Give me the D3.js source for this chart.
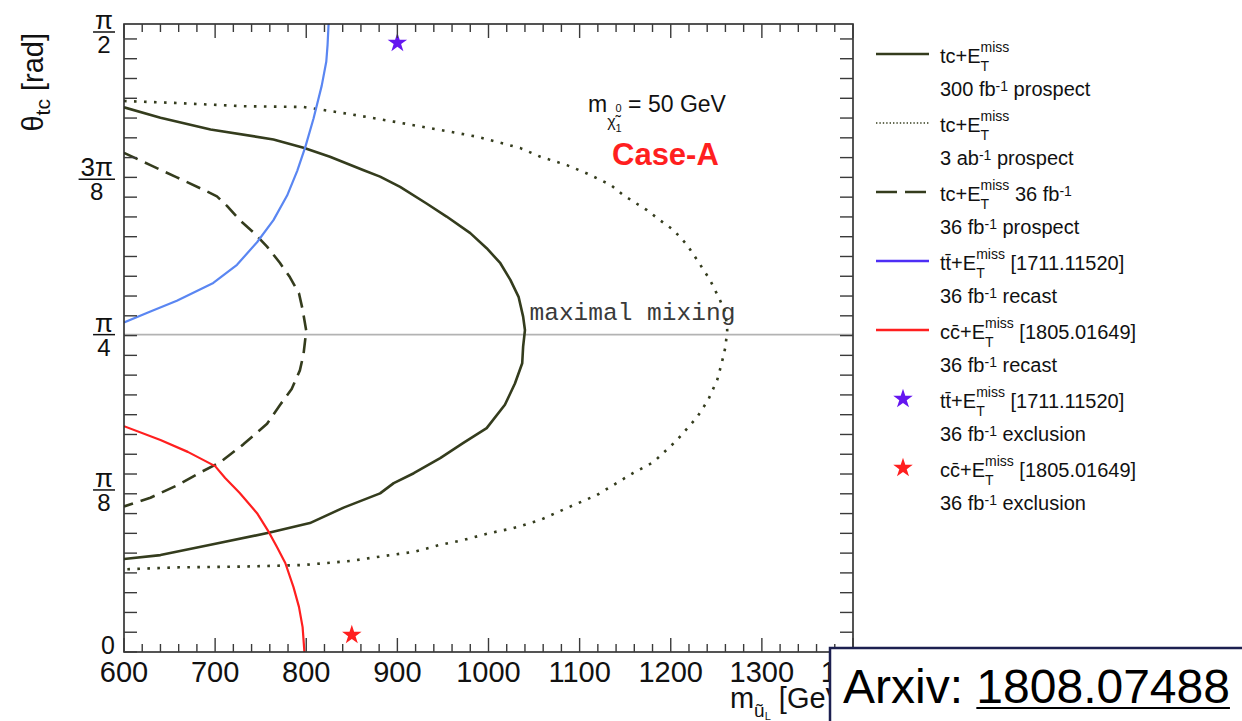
<!DOCTYPE html>
<html>
<head>
<meta charset="utf-8">
<script src="https://cdn.jsdelivr.net/npm/d3@7"></script>
<style>
  html, body { margin: 0; padding: 0; background: #fff; }
  svg { display: block; }
  text { font-family: "Liberation Sans", Arial, Helvetica, sans-serif; white-space: pre; }
  text.mono { font-family: "Liberation Mono", "DejaVu Sans Mono", monospace; }
</style>
</head>
<body>
<svg id="chart" width="1242" height="721"></svg>
<script>
// ---- axis ranges and ticks ----
const massRange = [600, 1400];
const thetaRange = [-0.017, Math.PI / 2];
const massMajorTicks = d3.range(600, 1401, 100);
const massMinorTicks = d3.range(600, 1401, 20);
const massTickLabels = ["600", "700", "800", "900", "1000", "1100", "1200", "1300", "1400"];
const thetaTicks = d3.range(thetaRange[0], thetaRange[1], 0.05);
const thetaLabelValues = [0, Math.PI / 8, Math.PI / 4, 3 * Math.PI / 8, Math.PI / 2];
const thetaLabelNum = ["0", "π", "π", "3π", "π"];
const thetaLabelDen = [null, "8", "4", "8", "2"];
const maximalMixing = Math.PI / 4;

// ---- contours: [stop mass (GeV), mixing angle (rad)] ----
const tc300 = [
  [600, 1.360], [640, 1.334], [695, 1.304], [764, 1.279], [797, 1.258], [826, 1.235],
  [863, 1.201], [881, 1.185], [903, 1.159], [932, 1.117], [954, 1.084], [980, 1.042],
  [998, 1.004], [1013, 0.966], [1024, 0.924], [1033, 0.881], [1038, 0.831], [1040, 0.797],
  [1038, 0.755], [1037, 0.713], [1029, 0.662], [1018, 0.608], [998, 0.549], [972, 0.511],
  [947, 0.473], [918, 0.435], [896, 0.410], [881, 0.384], [841, 0.348], [804, 0.309],
  [760, 0.285], [695, 0.254], [640, 0.228], [600, 0.218]
];
const tc3000 = [
  [600, 1.376], [658, 1.371], [731, 1.363], [797, 1.361], [848, 1.343], [896, 1.324],
  [947, 1.303], [987, 1.286], [1009, 1.273], [1035, 1.257], [1057, 1.235], [1086, 1.214],
  [1108, 1.193], [1134, 1.164], [1148, 1.138], [1174, 1.100], [1188, 1.075], [1203, 1.050],
  [1218, 1.012], [1229, 0.974], [1243, 0.924], [1254, 0.873], [1260, 0.840], [1262, 0.797],
  [1260, 0.754], [1256, 0.714], [1251, 0.671], [1241, 0.620], [1229, 0.577], [1207, 0.519],
  [1181, 0.463], [1159, 0.436], [1137, 0.405], [1119, 0.380], [1086, 0.347], [1057, 0.317],
  [1027, 0.296], [1002, 0.284], [972, 0.266], [947, 0.254], [918, 0.236], [892, 0.228],
  [848, 0.213], [797, 0.203], [731, 0.199], [658, 0.197], [600, 0.192]
];
const tc36 = [
  [600, 1.245], [629, 1.214], [658, 1.183], [687, 1.152], [702, 1.135], [713, 1.111],
  [727, 1.075], [742, 1.044], [757, 1.008], [771, 0.967], [782, 0.931], [792, 0.890],
  [796, 0.849], [800, 0.795], [797, 0.736], [793, 0.695], [784, 0.648], [771, 0.607],
  [757, 0.560], [731, 0.508], [705, 0.462], [683, 0.436], [658, 0.404], [629, 0.373],
  [600, 0.351]
];
const ttRecast = [
  [600, 0.816], [629, 0.844], [658, 0.871], [698, 0.916], [724, 0.962], [746, 1.019],
  [764, 1.075], [779, 1.137], [790, 1.199], [799, 1.260], [808, 1.332], [817, 1.415],
  [822, 1.476], [823.4, 1.518], [824.5, 1.571]
];
const ccRecast = [
  [600, 0.554], [640, 0.519], [670, 0.489], [700, 0.453], [711, 0.423], [727, 0.385],
  [746, 0.334], [759, 0.286], [768, 0.248], [777, 0.208], [786, 0.147], [792, 0.097],
  [796, 0.046], [798, -0.017]
];
const ttExclusion = [[900, 1.523]];
const ccExclusion = [[850, 0.026]];

// ---- legend text ----
const legendLine1 = [
  ["tc+E", {sup: "miss", sub: "T"}],
  ["tc+E", {sup: "miss", sub: "T"}],
  ["tc+E", {sup: "miss", sub: "T"}, " 36 fb", {sup: "-1"}],
  ["tt\u0304+E", {sup: "miss", sub: "T"}, " [1711.11520]"],
  ["cc\u0304+E", {sup: "miss", sub: "T"}, " [1805.01649]"],
  ["tt\u0304+E", {sup: "miss", sub: "T"}, " [1711.11520]"],
  ["cc\u0304+E", {sup: "miss", sub: "T"}, " [1805.01649]"]
];
const legendLine2 = [
  ["300 fb", {sup: "-1"}, " prospect"],
  ["3 ab", {sup: "-1"}, " prospect"],
  ["36 fb", {sup: "-1"}, " prospect"],
  ["36 fb", {sup: "-1"}, " recast"],
  ["36 fb", {sup: "-1"}, " recast"],
  ["36 fb", {sup: "-1"}, " exclusion"],
  ["36 fb", {sup: "-1"}, " exclusion"]
];

// ---- styles ----
const OLIVE = "#343c1d";
const BLUE = "#5a86f2";
const BLUE_KEY = "#4d2ef5";
const VIOLET = "#6516f0";
const RED = "#ff1f1f";
const styles = [
  {kind: "line", color: OLIVE, width: 2.6, dash: null, keyDash: null},
  {kind: "line", color: OLIVE, width: 2.6, dash: "2.6,7.4", keyDash: "1.4,2", keyWidth: 1.4},
  {kind: "line", color: OLIVE, width: 2.6, dash: "15,8", keyDash: "21,8"},
  {kind: "line", color: BLUE, keyColor: BLUE_KEY, width: 2.2, dash: null},
  {kind: "line", color: RED, width: 2.2, dash: null},
  {kind: "star", color: VIOLET},
  {kind: "star", color: RED}
];

const svg = d3.select("#chart");
const frame = {left: 124, right: 853, top: 24, bottom: 652};
const x = d3.scaleLinear().domain(massRange).range([frame.left, frame.right]);
const y = d3.scaleLinear().domain(thetaRange).range([frame.bottom, frame.top]);

svg.append("rect").attr("width", 1242).attr("height", 721).attr("fill", "#fff");

// text with super/subscripts laid out piece by piece
function richText(parent, parts, o) {
  const outer = parent.append("g")
    .attr("transform", `translate(${o.x},${o.y})` + (o.rotate ? ` rotate(${o.rotate})` : ""))
    .attr("fill", o.fill || "#000");
  const inner = outer.append("g");
  const small = o.small || Math.round(o.size * 0.68);
  let cx = 0;
  const put = (str, dy, size) => {
    const t = inner.append("text").attr("x", cx).attr("y", dy)
      .attr("font-size", size).attr("xml:space", "preserve").text(str);
    if (o.weight) t.attr("font-weight", o.weight);
    return t.node().getComputedTextLength();
  };
  parts.forEach(p => {
    if (typeof p === "string") {
      cx += put(p, 0, o.size);
    } else if (p.t !== undefined) {
      cx += put(p.t, p.dy || 0, p.size || small);
    } else {
      const start = cx;
      let w = 0;
      if (p.sup !== undefined) {
        cx = start;
        const dy = p.supDy !== undefined ? p.supDy : (p.sub !== undefined ? -o.size * 0.55 : -5);
        w = Math.max(w, put(p.sup, dy, p.size || small));
      }
      if (p.sub !== undefined) {
        cx = start;
        w = Math.max(w, put(p.sub, p.subDy !== undefined ? p.subDy : o.size * 0.4, p.size || small));
      }
      cx = start + w;
    }
  });
  if (o.anchor === "end") inner.attr("transform", `translate(${-cx},0)`);
  if (o.anchor === "middle") inner.attr("transform", `translate(${-cx / 2},0)`);
  return cx;
}

// ---- reference line at maximal mixing ----
svg.append("line")
  .attr("x1", frame.left).attr("x2", frame.right)
  .attr("y1", y(maximalMixing)).attr("y2", y(maximalMixing))
  .attr("stroke", "#b3b3b3").attr("stroke-width", 1.6);

svg.append("text").attr("class", "mono")
  .attr("x", x(1045)).attr("y", y(maximalMixing) - 15)
  .attr("font-size", 24.5).attr("fill", "#3a3a3a")
  .text("maximal mixing");

// ---- contours ----
svg.append("clipPath").attr("id", "plotClip").append("rect")
  .attr("x", frame.left).attr("y", frame.top)
  .attr("width", frame.right - frame.left).attr("height", frame.bottom - frame.top);

const line = d3.line().x(d => x(d[0])).y(d => y(d[1]));
const plotArea = svg.append("g").attr("clip-path", "url(#plotClip)");
[tc300, tc3000, tc36, ttRecast, ccRecast].forEach((series, i) => {
  const s = styles[i];
  plotArea.append("path").datum(series)
    .attr("d", line)
    .attr("fill", "none")
    .attr("stroke", s.color)
    .attr("stroke-width", s.width)
    .attr("stroke-dasharray", s.dash)
    .attr("stroke-linejoin", "round");
});

const star = d3.symbol(d3.symbolStar).size(118);
[[ttExclusion, VIOLET], [ccExclusion, RED]].forEach(([pts, color]) => {
  plotArea.selectAll(null).data(pts).enter().append("path")
    .attr("d", star)
    .attr("transform", d => `translate(${x(d[0])},${y(d[1])})`)
    .attr("fill", color);
});

// ---- frame and ticks ----
const axisColor = "#2a2a2a";
svg.append("rect")
  .attr("x", frame.left).attr("y", frame.top)
  .attr("width", frame.right - frame.left).attr("height", frame.bottom - frame.top)
  .attr("fill", "none").attr("stroke", axisColor).attr("stroke-width", 1.6);

const ticks = svg.append("g").attr("stroke", "#3a3a3a").attr("stroke-width", 1.4);
massMinorTicks.forEach(v => {
  const len = massMajorTicks.includes(v) ? 14 : 8;
  ticks.append("line").attr("x1", x(v)).attr("x2", x(v))
    .attr("y1", frame.bottom).attr("y2", frame.bottom - len);
  ticks.append("line").attr("x1", x(v)).attr("x2", x(v))
    .attr("y1", frame.top).attr("y2", frame.top + len);
});
thetaTicks.forEach(t => {
  ticks.append("line").attr("x1", frame.left).attr("x2", frame.left + 13)
    .attr("y1", y(t)).attr("y2", y(t));
  ticks.append("line").attr("x1", frame.right).attr("x2", frame.right - 13)
    .attr("y1", y(t)).attr("y2", y(t));
});

// x tick labels
svg.append("g").selectAll("text").data(massMajorTicks).enter().append("text")
  .attr("x", d => x(d)).attr("y", 682)
  .attr("text-anchor", "middle").attr("font-size", 29).attr("fill", "#111")
  .text((d, i) => massTickLabels[i]);

// y tick labels as fractions of pi
const labelRight = 115;
thetaLabelValues.forEach((v, i) => {
  const cy = Math.max(y(v), frame.top + 8);
  const g = svg.append("g").attr("fill", "#111");
  if (!thetaLabelDen[i]) {
    g.append("text").attr("x", labelRight).attr("y", cy + 9)
      .attr("text-anchor", "end").attr("font-size", 25).text(thetaLabelNum[i]);
    return;
  }
  const num = g.append("text").attr("y", cy - 3).attr("text-anchor", "middle")
    .attr("font-size", 26).text(thetaLabelNum[i]);
  const den = g.append("text").attr("y", cy + 21).attr("text-anchor", "middle")
    .attr("font-size", 24).text(thetaLabelDen[i]);
  const bw = Math.max(num.node().getComputedTextLength(), den.node().getComputedTextLength()) + 4;
  const cx = labelRight - bw / 2;
  num.attr("x", cx);
  den.attr("x", cx);
  g.append("line").attr("x1", labelRight - bw).attr("x2", labelRight)
    .attr("y1", cy).attr("y2", cy).attr("stroke", "#111").attr("stroke-width", 1.5);
});

// axis titles
richText(svg, ["θ", {t: "tc", dy: 7, size: 21}, " [rad]"],
  {x: 43, y: 33, size: 29, rotate: -90, anchor: "end", fill: "#111"});
richText(svg, ["m", {t: "u\u0303", dy: 9, size: 19}, {t: "L", dy: 12, size: 11}, " [GeV]"],
  {x: frame.right, y: 708, size: 29, anchor: "end", fill: "#111"});

// in-plot annotations
richText(svg, ["m", {t: "χ\u0303", dy: 15, size: 16}, {sup: "0", sub: "1", supDy: 0, subDy: 20, size: 11}, " = 50 GeV"],
  {x: 588, y: 112, size: 23, fill: "#111"});
svg.append("text").attr("x", 612).attr("y", 165)
  .attr("font-size", 31).attr("font-weight", "bold").attr("fill", RED)
  .text("Case-A");

// ---- legend ----
const legendX = 940, legendTop = 63, legendStep = 69;
legendLine1.forEach((parts, i) => {
  const base = legendTop + i * legendStep;
  const s = styles[i];
  const ky = base - 9;
  if (s.kind === "line") {
    svg.append("line").attr("x1", 876).attr("x2", 929).attr("y1", ky).attr("y2", ky)
      .attr("stroke", s.keyColor || s.color)
      .attr("stroke-width", s.keyWidth || 2.4)
      .attr("stroke-dasharray", s.keyDash || null);
  } else {
    svg.append("path").attr("d", star)
      .attr("transform", `translate(903,${ky})`).attr("fill", s.color);
  }
  richText(svg, parts, {x: legendX, y: base, size: 20, small: 14, fill: "#111"});
  richText(svg, legendLine2[i], {x: legendX, y: base + 33, size: 20, small: 14, fill: "#111"});
});

// ---- reference box ----
const box = svg.append("g");
box.append("rect").attr("x", 830).attr("y", 648).attr("width", 430).attr("height", 90)
  .attr("fill", "#fff").attr("stroke", "#1c2050").attr("stroke-width", 2.5);
const arx = box.append("text").attr("x", 843).attr("y", 703).attr("font-size", 48)
  .attr("fill", "#000").text("Arxiv:");
const numX = 843 + arx.node().getComputedTextLength() + 48 * 0.278;
const num = box.append("text").attr("x", numX).attr("y", 703).attr("font-size", 48)
  .attr("fill", "#000").text("1808.07488");
box.append("line").attr("x1", numX).attr("x2", numX + num.node().getComputedTextLength())
  .attr("y1", 708).attr("y2", 708).attr("stroke", "#000").attr("stroke-width", 2.2);
</script>
</body>
</html>
